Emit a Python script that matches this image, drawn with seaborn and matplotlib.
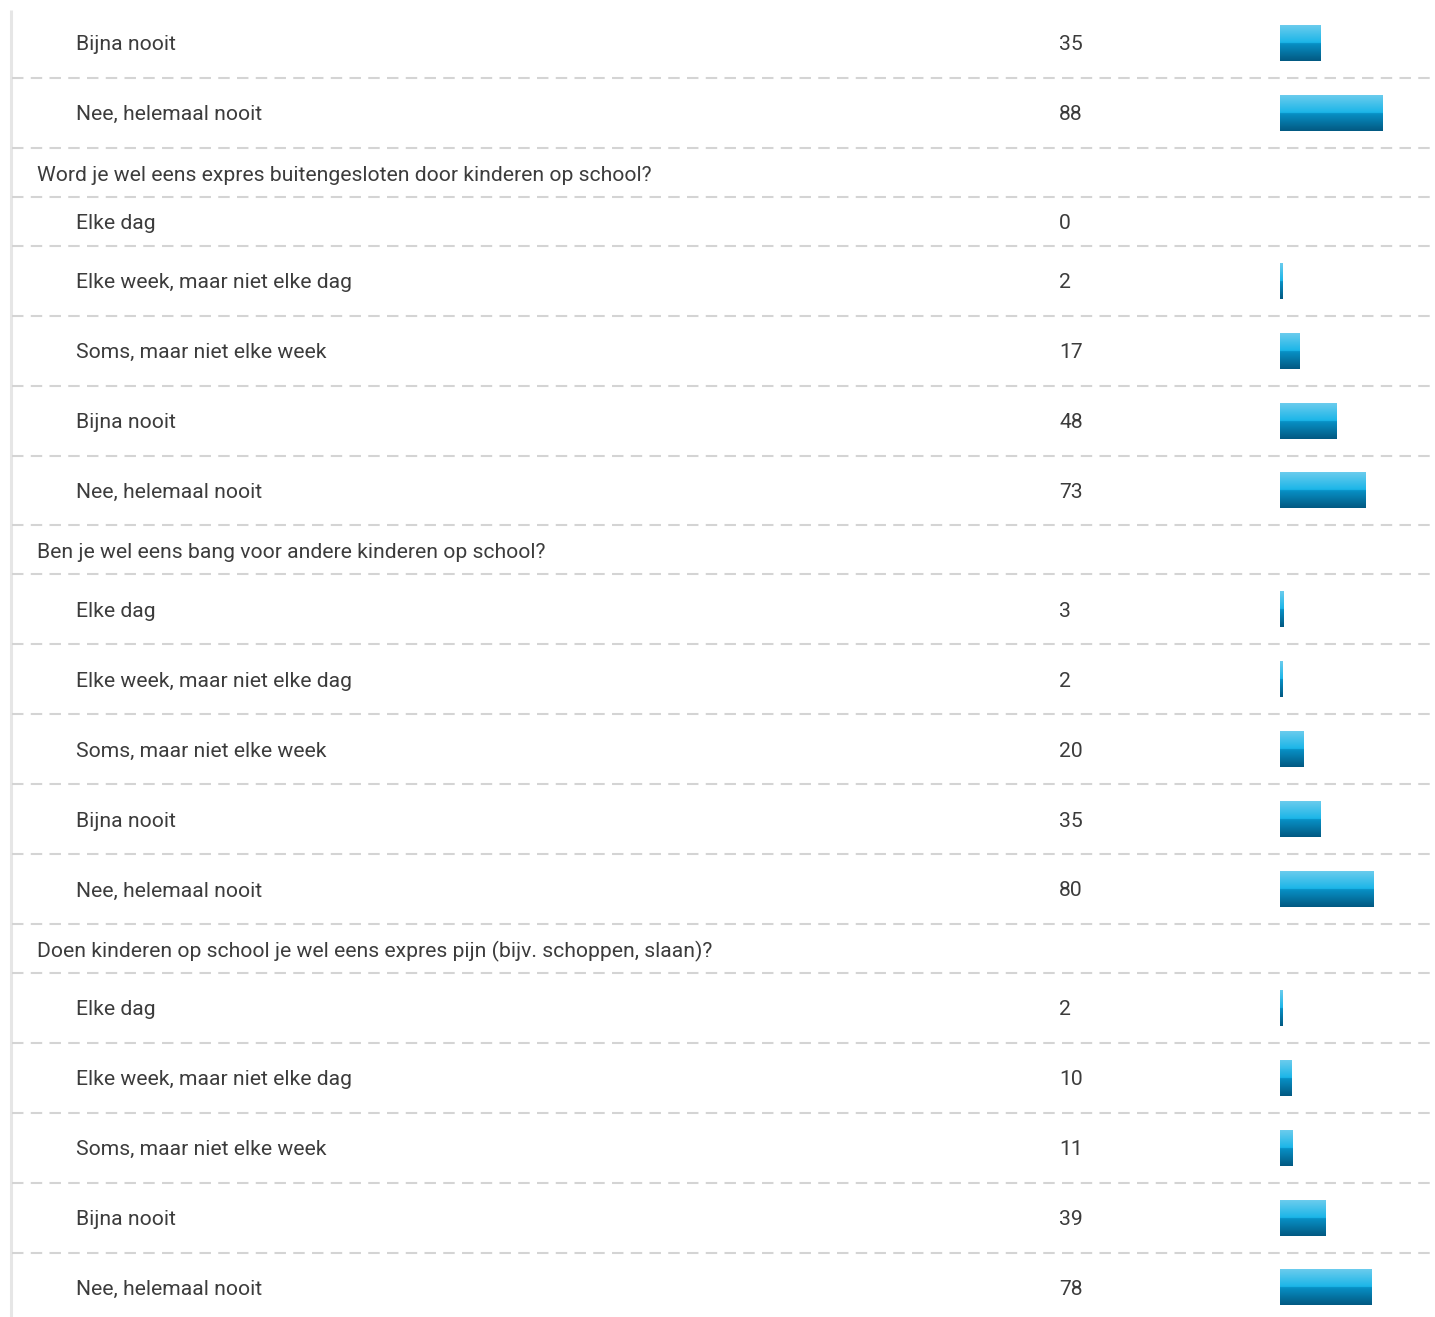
import numpy as np
import pandas as pd
import matplotlib

matplotlib.use("Agg")
import matplotlib.pyplot as plt
import seaborn as sns

# rows of the table, top to bottom ("q" = question header, "a" = answer)
row_kinds = ["a", "a",
             "q", "a", "a", "a", "a", "a",
             "q", "a", "a", "a", "a", "a",
             "q", "a", "a", "a", "a", "a"]
row_labels = [
    "Bijna nooit",
    "Nee, helemaal nooit",
    "Word je wel eens expres buitengesloten door kinderen op school?",
    "Elke dag",
    "Elke week, maar niet elke dag",
    "Soms, maar niet elke week",
    "Bijna nooit",
    "Nee, helemaal nooit",
    "Ben je wel eens bang voor andere kinderen op school?",
    "Elke dag",
    "Elke week, maar niet elke dag",
    "Soms, maar niet elke week",
    "Bijna nooit",
    "Nee, helemaal nooit",
    "Doen kinderen op school je wel eens expres pijn (bijv. schoppen, slaan)?",
    "Elke dag",
    "Elke week, maar niet elke dag",
    "Soms, maar niet elke week",
    "Bijna nooit",
    "Nee, helemaal nooit",
]
row_counts = [35, 88,
              None, 0, 2, 17, 48, 73,
              None, 3, 2, 20, 35, 80,
              None, 2, 10, 11, 39, 78]

W, H = 1435, 1317
ROW_H = 69.9
ROW_H_SMALL = 49.0
TOP = 8.0
BAR_X = 1280
PX_PER_UNIT = 1.17
BAR_H = 36
TEXT_COLOR = "#3c3c3c"
FS = 15.2

sns.set_theme(style="white")
plt.rcParams["font.family"] = ["Roboto", "DejaVu Sans"]

# row geometry (pixels, y down)
tops, centers, bottoms = [], [], []
y = TOP
for kind, cnt in zip(row_kinds, row_counts):
    h = ROW_H if (kind == "a" and cnt) else ROW_H_SMALL
    tops.append(y)
    centers.append(y + h / 2)
    y += h
    bottoms.append(y)

fig = plt.figure(figsize=(W / 100, H / 100), dpi=100)
ax = fig.add_axes([0, 0, 1, 1])
ax.set_xlim(0, W)
ax.set_ylim(H, 0)
ax.axis("off")

# left border
ax.plot([10.5, 10.5], [10, H], color="#e6e6e6", lw=2.2, solid_capstyle="butt")

# dashed separators
for b in bottoms:
    ax.plot([12, W], [b, b], color="#d4d4d4", lw=1.5,
            linestyle=(0, (5.5, 3.5)))

for kind, label, cnt, c in zip(row_kinds, row_labels, row_counts, centers):
    if kind == "q":
        ax.text(37, c + 3, label, fontsize=FS, fontweight="normal",
                color=TEXT_COLOR, va="center", ha="left")
    else:
        ax.text(76, c + 2, label, fontsize=FS, fontweight="normal",
                color=TEXT_COLOR, va="center", ha="left")
        ax.text(1059, c + 2, str(cnt), fontsize=FS, fontweight="normal",
                color=TEXT_COLOR, va="center", ha="left")

# bars in their own column axes, sharing the pixel y scale
bar_df = pd.DataFrame({
    "pos": [c for k, n, c in zip(row_kinds, row_counts, centers) if k == "a" and n],
    "count": [n for k, n in zip(row_kinds, row_counts) if k == "a" and n],
})
bar_w_px = W - BAR_X
axb = fig.add_axes([BAR_X / W, 0, bar_w_px / W, 1])
spacing = np.diff(np.sort(bar_df["pos"].values)).min()
sns.barplot(data=bar_df, x="count", y="pos", orient="y", native_scale=True,
            width=BAR_H / spacing, color="#1ab4e8", ax=axb)

# two-tone vertical gradient on each bar
top_part = np.linspace([0.42, 0.80, 0.93], [0.10, 0.71, 0.91], 50)
bot_part = np.linspace([0.03, 0.57, 0.78], [0.01, 0.35, 0.51], 50)
grad = np.concatenate([top_part, bot_part])[:, None, :]
for p in list(axb.patches):
    x0, y0 = p.get_x(), p.get_y()
    w, h = p.get_width(), p.get_height()
    if w <= 0:
        continue
    ylo, yhi = min(y0, y0 + h), max(y0, y0 + h)
    axb.imshow(grad, extent=(x0, x0 + w, yhi, ylo), origin="upper",
               aspect="auto", interpolation="bilinear", zorder=3)
    p.set_visible(False)

axb.set_xlim(0, bar_w_px / PX_PER_UNIT)
axb.set_ylim(H, 0)
axb.axis("off")

fig.savefig("out.png", dpi=100, facecolor="white")
